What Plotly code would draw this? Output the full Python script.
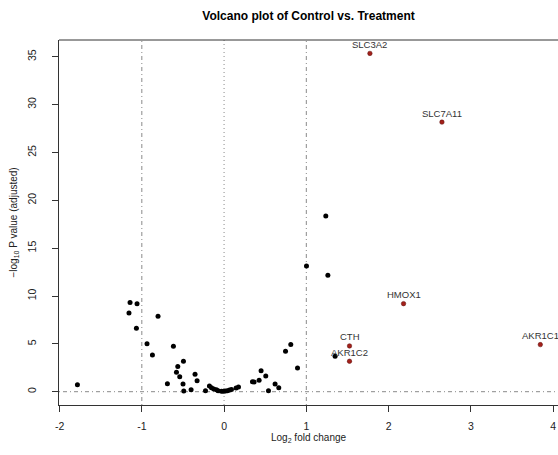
import plotly.graph_objects as go

# Background genes (log2 fold change, -log10 adjusted p)
bg_lfc = [-1.783, -1.156, -1.143, -1.058, -1.066, -0.803, -0.937, -0.871, -0.616, -0.689,
          -0.494, -0.563, -0.579, -0.539, -0.499, -0.490, -0.353, -0.328, -0.401, -0.226,
          -0.178, -0.153, -0.125, -0.093, -0.073, -0.032, -0.007, 0.017, 0.041, 0.066,
          0.090, 0.146, 0.175, 0.345, 0.365, 0.426, 0.450, 0.507, 0.540, 0.620,
          0.665, 0.747, 0.811, 0.893, 1.002, 1.237, 1.262, 1.350]
bg_p = [0.73, 8.23, 9.31, 9.20, 6.63, 7.88, 5.02, 3.84, 4.74, 0.84,
        3.18, 2.62, 2.03, 1.57, 0.81, 0.07, 1.82, 1.15, 0.21, 0.10,
        0.60, 0.42, 0.28, 0.21, 0.10, 0.04, 0.04, 0.07, 0.10, 0.17,
        0.24, 0.38, 0.50, 1.05, 1.02, 1.19, 2.20, 1.64, 0.10, 0.80,
        0.42, 4.22, 4.92, 2.48, 13.14, 18.37, 12.17, 3.70]

# Highlighted genes
hi_genes = ["SLC3A2", "SLC7A11", "HMOX1", "CTH", "AKR1C2", "AKR1C1"]
hi_lfc = [1.773, 2.649, 2.182, 1.525, 1.525, 3.845]
hi_p = [35.35, 28.17, 9.20, 4.78, 3.18, 4.92]

x_ticks = [-2, -1, 0, 1, 2, 3, 4]
y_ticks = [0, 5, 10, 15, 20, 25, 30, 35]
fc_cut = 1

FONT = "Liberation Sans, Arial, Helvetica, sans-serif"
AX = "#333333"
REF = "#8a8a8a"
DOTDASH = "1px,3px,4px,3px"
DOTTED = "1px,3px"

fig = go.Figure()

fig.add_trace(go.Scatter(
    x=bg_lfc, y=bg_p, mode="markers",
    marker=dict(color="black", size=5, line=dict(width=0)),
    hoverinfo="skip", showlegend=False,
))
fig.add_trace(go.Scatter(
    x=hi_lfc, y=hi_p, mode="markers",
    marker=dict(color="#a3201a", size=4.5, line=dict(color="#5a0d0a", width=0.5)),
    hoverinfo="skip", showlegend=False,
))

for g, xv, yv in zip(hi_genes, hi_lfc, hi_p):
    fig.add_annotation(x=xv, y=yv, text=g, showarrow=False, yshift=9,
                       xanchor="center", yanchor="middle",
                       font=dict(family=FONT, size=9.5, color="#333333"))

# Reference lines
for xv in (-fc_cut, fc_cut):
    fig.add_shape(type="line", xref="x", yref="paper", x0=xv, x1=xv, y0=0, y1=1,
                  line=dict(color=REF, width=1, dash=DOTDASH), layer="below")
fig.add_shape(type="line", xref="x", yref="paper", x0=0, x1=0, y0=0, y1=1,
              line=dict(color=REF, width=1, dash=DOTTED), layer="below")
fig.add_shape(type="line", xref="paper", yref="y", x0=0, x1=1, y0=0, y1=0,
              line=dict(color=REF, width=1, dash=DOTDASH), layer="below")
# Top border of the plot box
fig.add_shape(type="line", xref="paper", yref="paper", x0=0, x1=1, y0=1, y1=1,
              line=dict(color=AX, width=1))

fig.update_layout(
    width=558, height=455,
    margin=dict(l=59, r=0, t=40, b=50),
    paper_bgcolor="white", plot_bgcolor="white",
    font=dict(family=FONT, color="#222222"),
    title=dict(text="<b>Volcano plot of Control vs. Treatment</b>",
               x=0.5, xref="paper", xanchor="center",
               y=1 - 16 / 455, yref="container", yanchor="middle",
               font=dict(family=FONT, size=12, color="black")),
    xaxis=dict(range=[-2.007, 4.06], tickvals=x_ticks, ticktext=[str(v) for v in x_ticks],
               showgrid=False, zeroline=False, showline=True, linecolor=AX, linewidth=1,
               ticks="outside", ticklen=6, tickcolor=AX, tickwidth=1,
               ticklabelstandoff=5,
               tickfont=dict(family=FONT, size=10.5, color="#222222")),
    yaxis=dict(range=[-1.39, 36.75], tickvals=y_ticks, ticktext=[str(v) for v in y_ticks],
               showgrid=False, zeroline=False, showline=True, linecolor=AX, linewidth=1,
               ticks="outside", ticklen=6, tickcolor=AX, tickwidth=1,
               tickangle=-90, ticklabelstandoff=12,
               tickfont=dict(family=FONT, size=10.5, color="#222222")),
)

fig.add_annotation(xref="paper", yref="paper", x=0.5, y=0, yshift=-33,
                   text="Log<sub>2</sub> fold change", showarrow=False,
                   xanchor="center", yanchor="middle",
                   font=dict(family=FONT, size=10, color="#222222"))
fig.add_annotation(xref="paper", yref="paper", x=0, y=0.5, xshift=-46,
                   text="\u2212log<sub>10</sub> P value (adjusted)", showarrow=False,
                   textangle=-90, xanchor="center", yanchor="middle",
                   font=dict(family=FONT, size=10, color="#222222"))

fig.write_html("out.html")
